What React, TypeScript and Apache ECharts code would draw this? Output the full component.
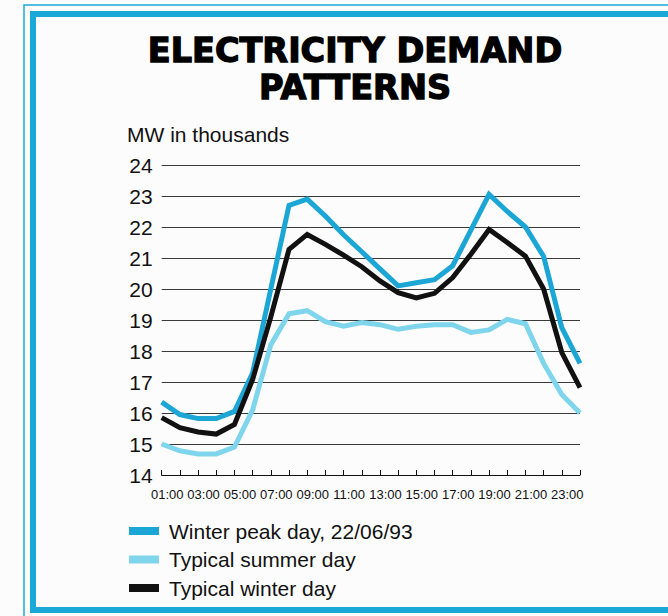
import React, { useEffect, useRef } from "react";
import * as echarts from "echarts";

const hours = [
  "01:00", "02:00", "03:00", "04:00", "05:00", "06:00", "07:00", "08:00",
  "09:00", "10:00", "11:00", "12:00", "13:00", "14:00", "15:00", "16:00",
  "17:00", "18:00", "19:00", "20:00", "21:00", "22:00", "23:00", "24:00",
];

const winterPeak = [
  16.35, 15.95, 15.82, 15.82, 16.05, 17.3, 20.0, 22.7, 22.9, 22.35, 21.75, 21.2,
  20.65, 20.1, 20.2, 20.3, 20.75, 21.9, 23.05, 22.5, 22.0, 21.05, 18.75, 17.6,
];

const typicalSummer = [
  15.0, 14.78, 14.68, 14.68, 14.9, 16.1, 18.2, 19.2, 19.3, 18.95, 18.8, 18.92,
  18.85, 18.7, 18.8, 18.85, 18.85, 18.6, 18.68, 19.02, 18.88, 17.6, 16.6, 16.0,
];

const typicalWinter = [
  15.85, 15.53, 15.39, 15.32, 15.63, 17.08, 19.1, 21.28, 21.76, 21.44, 21.09, 20.72,
  20.26, 19.88, 19.71, 19.86, 20.37, 21.12, 21.92, 21.5, 21.06, 20.0, 17.95, 16.82,
];

const seriesNames = ["Winter peak day, 22/06/93", "Typical summer day", "Typical winter day"];
const seriesColors = ["#1ba6d6", "#7fd5ec", "#111111"];

const FRAME_BLUE = "#1aa9d6";
const FONT = "'Liberation Sans', Arial, Helvetica, sans-serif";

export default function App() {
  const ref = useRef<HTMLDivElement>(null);

  useEffect(() => {
    if (!ref.current) return;
    const chart = echarts.init(ref.current, undefined, { renderer: "svg" });
    const data = [winterPeak, typicalSummer, typicalWinter];
    const drawOrder = [1, 0, 2];
    chart.setOption({
      animation: false,
      backgroundColor: "#fcfcfc",
      title: {
        text: "ELECTRICITY DEMAND\nPATTERNS",
        left: 355,
        top: 32,
        textAlign: "center",
        padding: 0,
        textStyle: {
          fontFamily: "'DejaVu Sans', sans-serif",
          fontWeight: "bold",
          fontSize: 33.5,
          lineHeight: 37,
          color: "#000",
          textBorderColor: "#000",
          textBorderWidth: 1.3,
        },
      },
      legend: {
        orient: "vertical",
        left: 129,
        top: 520.5,
        padding: 0,
        itemWidth: 30,
        itemHeight: 8,
        itemGap: 7.5,
        icon: "rect",
        data: seriesNames,
        textStyle: {
          fontFamily: FONT,
          fontSize: 21,
          lineHeight: 21,
          color: "#111",
          padding: [0, 0, 0, 5],
        },
      },
      grid: { left: 161.7, right: 88, top: 165, bottom: 141, containLabel: false },
      xAxis: {
        type: "category",
        data: hours,
        boundaryGap: false,
        axisLine: { show: true, lineStyle: { color: "#111", width: 1.2 } },
        axisTick: { show: true, inside: true, length: 5, interval: 0, lineStyle: { color: "#111", width: 1 } },
        axisLabel: {
          interval: 0,
          formatter: (v: string, i: number) => (i % 2 === 0 ? v : ""),
          margin: 13,
          fontFamily: FONT,
          fontSize: 13,
          color: "#111",
          padding: [0, 0, 0, 11],
        },
        splitLine: { show: false },
      },
      yAxis: {
        type: "value",
        min: 14,
        max: 24,
        interval: 1,
        axisLine: { show: false },
        axisTick: { show: false },
        axisLabel: { margin: 9, fontFamily: FONT, fontSize: 21, color: "#111" },
        splitLine: { show: true, lineStyle: { color: "#3a3a3a", width: 1.1 } },
      },
      graphic: [
        {
          type: "rect",
          shape: { x: 24, y: 5, width: 700, height: 700 },
          style: { fill: "none", stroke: FRAME_BLUE, lineWidth: 1.5 },
          silent: true,
        },
        {
          type: "rect",
          shape: { x: 33, y: 14, width: 700, height: 596 },
          style: { fill: "none", stroke: FRAME_BLUE, lineWidth: 6 },
          silent: true,
        },
        {
          type: "text",
          x: 127,
          y: 134,
          style: {
            text: "MW in thousands",
            fontFamily: FONT,
            fontSize: 21,
            fill: "#111",
            verticalAlign: "middle",
            align: "left",
          },
          silent: true,
        },
      ],
      series: drawOrder.map((i) => ({
        name: seriesNames[i],
        type: "line",
        data: data[i],
        showSymbol: false,
        symbol: "none",
        lineStyle: { color: seriesColors[i], width: 5, join: "miter" },
        itemStyle: { color: seriesColors[i] },
        z: 3,
      })),
    });
    return () => chart.dispose();
  }, []);

  return (
    <div
      ref={ref}
      style={{ position: "fixed", left: 0, top: 0, width: 668, height: 616 }}
    />
  );
}
